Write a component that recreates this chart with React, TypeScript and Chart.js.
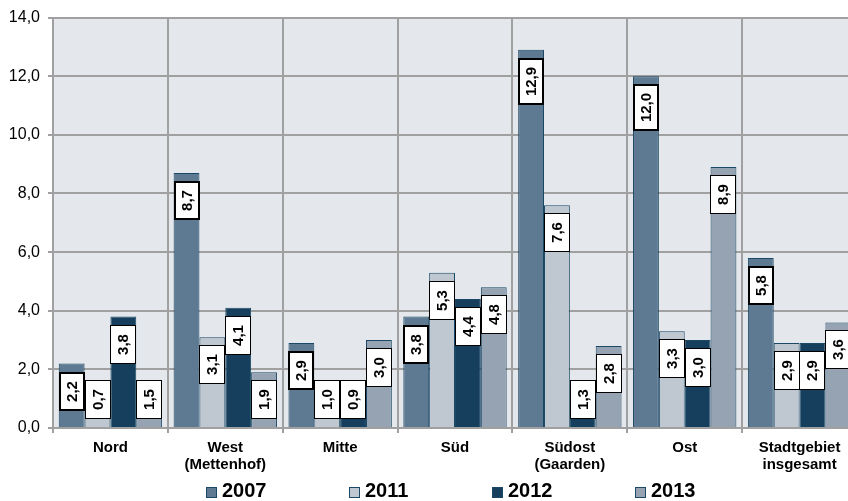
import React, { useEffect, useRef } from "react";
import { Chart, registerables } from "chart.js";

Chart.register(...registerables);

const categories: (string | string[])[] = [
  "Nord",
  ["West", "(Mettenhof)"],
  "Mitte",
  "Süd",
  ["Südost", "(Gaarden)"],
  "Ost",
  ["Stadtgebiet", "insgesamt"],
];
const seriesNames = ["2007", "2011", "2012", "2013"];
const values2007 = [2.2, 8.7, 2.9, 3.8, 12.9, 12.0, 5.8];
const values2011 = [0.7, 3.1, 1.0, 5.3, 7.6, 3.3, 2.9];
const values2012 = [3.8, 4.1, 0.9, 4.4, 1.3, 3.0, 2.9];
const values2013 = [1.5, 1.9, 3.0, 4.8, 2.8, 8.9, 3.6];
const seriesColors = ["#5e7992", "#bfc7d1", "#153f5d", "#95a3b3"];
const yTicks = [0, 2, 4, 6, 8, 10, 12, 14];

const FONT = "'Liberation Sans', Arial, Helvetica, sans-serif";
const fmt = (v: number) => v.toFixed(1).replace(".", ",");

const bgPlugin = {
  id: "plotBg",
  beforeDraw(chart: any) {
    const { ctx, chartArea } = chart;
    ctx.save();
    ctx.fillStyle = "#e4e8ec";
    ctx.fillRect(chartArea.left, chartArea.top, chartArea.right - chartArea.left, chartArea.bottom - chartArea.top);
    ctx.restore();
  },
};

const labelPlugin = {
  id: "boxLabels",
  afterDatasetsDraw(chart: any) {
    const { ctx, chartArea } = chart;
    ctx.save();
    ctx.font = `bold 15px ${FONT}`;
    chart.data.datasets.forEach((ds: any, di: number) => {
      const meta = chart.getDatasetMeta(di);
      meta.data.forEach((bar: any, i: number) => {
        const label = fmt(ds.data[i]);
        const tw = ctx.measureText(label).width;
        const h = Math.round(tw + 18);
        const w = Math.round(bar.width);
        let top = Math.round(bar.y + 8);
        top = Math.min(top, Math.round(chartArea.bottom - 9 - h));
        const left = Math.round(bar.x - w / 2);
        const lw = di === 0 ? 2 : 1;
        ctx.fillStyle = "#ffffff";
        ctx.fillRect(left, top, w, h);
        ctx.strokeStyle = "#000000";
        ctx.lineWidth = lw;
        if (lw === 1) {
          ctx.strokeRect(left + 0.5, top + 0.5, w - 1, h - 1);
        } else {
          ctx.strokeRect(left + 1, top + 1, w - 2, h - 2);
        }
        ctx.save();
        ctx.translate(left + w / 2, top + h / 2);
        ctx.rotate(-Math.PI / 2);
        ctx.fillStyle = "#000000";
        ctx.textAlign = "center";
        ctx.textBaseline = "middle";
        ctx.fillText(label, 0, 1);
        ctx.restore();
      });
    });
    ctx.restore();
  },
};

const legendPlugin = {
  id: "customLegend",
  afterDraw(chart: any) {
    const { ctx } = chart;
    ctx.save();
    ctx.font = `bold 20px ${FONT}`;
    ctx.textBaseline = "middle";
    ctx.textAlign = "left";
    const startX = 206;
    const step = 143;
    chart.data.datasets.forEach((ds: any, di: number) => {
      const x = startX + di * step;
      const y = 487;
      ctx.fillStyle = ds.backgroundColor;
      ctx.fillRect(x, y, 11, 11);
      ctx.strokeStyle = "#1b4866";
      ctx.lineWidth = 1;
      ctx.strokeRect(x + 0.5, y + 0.5, 10, 10);
      ctx.fillStyle = "#000000";
      ctx.fillText(ds.label, x + 16, 491);
    });
    ctx.restore();
  },
};

export default function App() {
  const ref = useRef<HTMLCanvasElement | null>(null);
  useEffect(() => {
    if (!ref.current) return;
    const allValues = [values2007, values2011, values2012, values2013];
    const chart = new Chart(ref.current, {
      type: "bar",
      data: {
        labels: categories as any,
        datasets: allValues.map((vals, i) => ({
          label: seriesNames[i],
          data: vals,
          backgroundColor: seriesColors[i],
          borderColor: "#1b4866",
          borderWidth: 1,
          categoryPercentage: 0.9,
          barPercentage: 1.0,
        })),
      },
      options: {
        animation: false,
        responsive: true,
        maintainAspectRatio: false,
        layout: { padding: { top: 17, right: 3, left: 0, bottom: 0 } },
        plugins: {
          legend: { display: false },
          tooltip: { enabled: false },
        },
        scales: {
          x: {
            offset: true,
            grid: {
              offset: true,
              color: "#a0a0a0",
              lineWidth: 2,
              tickLength: 5,
              drawTicks: true,
            },
            border: { color: "#a0a0a0", width: 2 },
            ticks: {
              color: "#000000",
              font: { family: FONT, size: 15, weight: "bold", lineHeight: 1.15 },
              padding: 6,
              maxRotation: 0,
              autoSkip: false,
            },
            afterFit: (s: any) => {
              s.height = 73;
            },
          },
          y: {
            min: 0,
            max: 14,
            afterBuildTicks: (s: any) => {
              s.ticks = yTicks.map((v) => ({ value: v }));
            },
            grid: { color: "#a0a0a0", lineWidth: 2, tickLength: 5 },
            border: { color: "#a0a0a0", width: 2 },
            ticks: {
              color: "#000000",
              font: { family: FONT, size: 16 },
              padding: 8,
              callback: (v: any) => fmt(Number(v)),
            },
            afterFit: (s: any) => {
              s.width = 53;
            },
          },
        },
      },
      plugins: [bgPlugin, labelPlugin, legendPlugin],
    });
    return () => chart.destroy();
  }, []);

  return (
    <div style={{ position: "absolute", left: 0, top: 0, width: 848, height: 501, overflow: "hidden", background: "#ffffff" }}>
      <div style={{ position: "relative", width: 860, height: 501 }}>
        <canvas ref={ref} />
      </div>
    </div>
  );
}
